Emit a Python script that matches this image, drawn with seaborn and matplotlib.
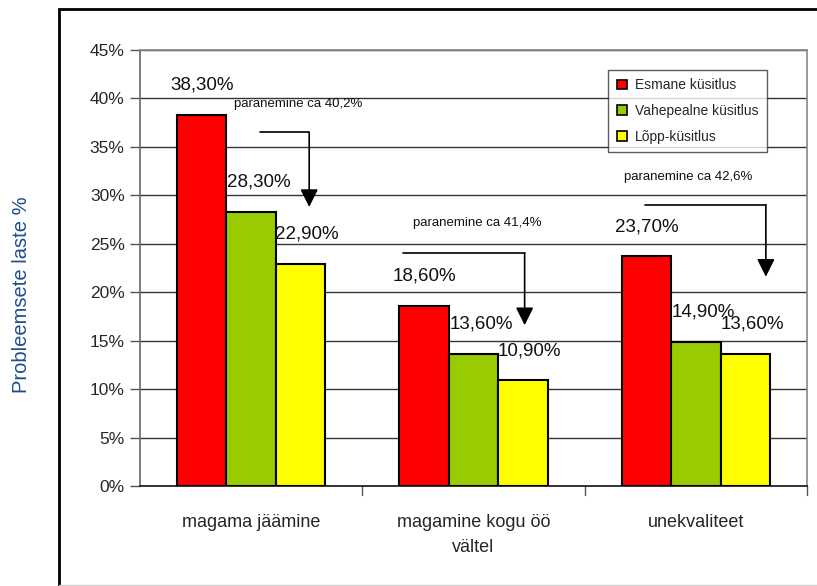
import matplotlib
matplotlib.use("Agg")
import matplotlib.pyplot as plt
from matplotlib.patches import Rectangle
import seaborn as sns
import pandas as pd

categories = ["magama jäämine", "magamine kogu öö\nvältel", "unekvaliteet"]
surveys = ["Esmane küsitlus", "Vahepealne küsitlus", "Lõpp-küsitlus"]
esmane = [38.3, 18.6, 23.7]
vahepealne = [28.3, 13.6, 14.9]
lopp = [22.9, 10.9, 13.6]
improvement = ["paranemine ca 40,2%", "paranemine ca 41,4%", "paranemine ca 42,6%"]
colors = ["#FF0000", "#99CC00", "#FFFF00"]
yticks = [0, 5, 10, 15, 20, 25, 30, 35, 40, 45]

rows = []
for s, vals in zip(surveys, [esmane, vahepealne, lopp]):
    for c, v in zip(categories, vals):
        rows.append({"kategooria": c, "küsitlus": s, "väärtus": v})
df = pd.DataFrame(rows)

sns.set_theme(style="white")
plt.rcParams["font.family"] = ["Liberation Sans", "DejaVu Sans"]

fig = plt.figure(figsize=(8.17, 5.86), dpi=100)
ax = fig.add_axes([140 / 817, 1 - 486 / 586, 667 / 817, 436 / 586])

sns.barplot(data=df, x="kategooria", y="väärtus", hue="küsitlus",
            palette=colors, saturation=1, width=0.667,
            edgecolor="black", linewidth=1.5, ax=ax, zorder=3)

ax.set_ylim(0, 45)
ax.set_xlim(-0.5, 2.5)
ax.set_yticks(yticks)
ax.set_yticklabels([f"{t}%" for t in yticks], fontsize=12.5)
ax.set_xticks([0, 1, 2])
ax.set_xticklabels(categories, fontsize=13, linespacing=1.6)
ax.tick_params(axis="x", length=0, pad=20)
ax.tick_params(axis="y", length=7, width=1, color="#555555", direction="out", left=True, pad=4)
for xb in [0.5, 1.5, 2.5]:
    ax.plot([xb, xb], [0, -0.9], color="#555555", lw=1, clip_on=False)
ax.set_xlabel("")
ax.set_ylabel("")

for y in yticks[1:]:
    ax.axhline(y, color="#333333", lw=1, zorder=1)

ax.spines["left"].set_color("#666666")
ax.spines["bottom"].set_color("#111111")
ax.spines["top"].set_color("#888888")
ax.spines["right"].set_color("#888888")
for sp in ax.spines.values():
    sp.set_linewidth(1.2)

# value labels above bars
shifts = [0.0, 0.035, 0.03]
for cont, dx in zip(ax.containers, shifts):
    for bar in cont:
        h = bar.get_height()
        x = bar.get_x() + bar.get_width() / 2 + dx
        ax.text(x, h + 2.2, f"{h:.2f}%".replace(".", ","), ha="center", va="bottom",
                fontsize=13.5, color="#111111", zorder=5)

# improvement arrows
arrows = [
    (0.041, 0.261, 36.5, 28.8, 0.21, 39.4),
    (0.685, 1.23, 24.0, 16.6, 1.018, 27.1),
    (1.77, 2.315, 29.0, 21.6, 1.964, 31.9),
]
for (x0, x1, yh, ytip, tx, ty), txt in zip(arrows, improvement):
    ax.plot([x0, x1], [yh, yh], color="black", lw=1.2, zorder=4)
    ax.annotate("", xy=(x1, ytip), xytext=(x1, yh),
                arrowprops=dict(arrowstyle="-|>,head_length=0.9,head_width=0.45",
                                color="black", lw=1.2, shrinkA=0, shrinkB=0), zorder=4)
    ax.text(tx, ty, txt, ha="center", va="center", fontsize=9.5, color="#111111", zorder=5)

leg = ax.legend(loc="upper right", bbox_to_anchor=(0.95, 0.97), fontsize=10,
                frameon=True, fancybox=False, edgecolor="#333333",
                handlelength=0.7, handleheight=0.7, handletextpad=0.6,
                labelspacing=0.85, borderpad=0.6)
leg.get_frame().set_linewidth(1.0)
leg.set_zorder(6)
for h in leg.legend_handles:
    h.set_edgecolor("black")
    h.set_linewidth(1.2)

fig.text(22 / 817, 1 - 295 / 586, "Probleemsete laste %", rotation=90,
         ha="center", va="center", fontsize=14.5, color="#1F4E8C")

fig.patches.append(Rectangle((59 / 817, -0.01), 1.0, 1 - 9 / 586 + 0.01,
                             transform=fig.transFigure, fill=False,
                             edgecolor="black", lw=2))
fig.lines.append(plt.Line2D([59 / 817, 1], [1 / 586, 1 / 586], transform=fig.transFigure,
                            color="#cccccc", lw=1))

fig.savefig("out.png", dpi=100)
